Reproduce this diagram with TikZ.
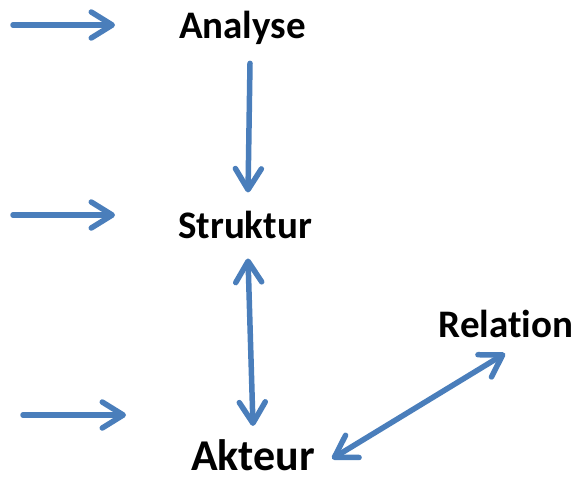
\documentclass[tikz,border=0pt]{standalone}
\usepackage{fontspec}
\setmainfont[Ligatures=NoCommon]{Carlito}
\usepackage{tikz}
\usetikzlibrary{arrows.meta}
\definecolor{sablue}{HTML}{4A7EBB}
\tikzset{
  saword/.style={font=\bfseries\fontsize{39}{44}\selectfont,inner sep=0pt,anchor=base},
  sabig/.style={saword,font=\bfseries\fontsize{44}{49}\selectfont},
  saflow/.style={-{Straight Barb[length=21pt,width=26pt,round]},line width=5.5pt,
                 line cap=round,sablue},
  saboth/.style={saflow,{Straight Barb[length=21pt,width=26pt,round]}-{Straight Barb[length=21pt,width=26pt,round]}}
}
\begin{document}
\begin{tikzpicture}[x=1pt,y=-1pt]
  \useasboundingbox (0,0) rectangle (580,483);

  \node[saword] (analyse) at (242.5,38) {Analyse};
  \node[saword] (struktur) at (245,238) {Struktur};
  \node[saword] (relation) at (506,337) {Relation};
  \node[sabig] (akteur) at (253,470) {Akteur};

  \coordinate (inAstart) at (13,25);
  \coordinate (inAend) at (115,25);
  \coordinate (inSstart) at (13,215);
  \coordinate (inSend) at (115,215);
  \coordinate (inKstart) at (23,415);
  \coordinate (inKend) at (126,415);

  \draw[saflow] (inAstart) -- (inAend);
  \draw[saflow] (inSstart) -- (inSend);
  \draw[saflow] (inKstart) -- (inKend);

  \draw[saflow] ([shift={(7.5,19)}]analyse.south) -- ([shift={(3,-18)}]struktur.north);
  \draw[saboth] ([shift={(3,20)}]struktur.south) -- ([shift={(0,-13)}]akteur.north);
  \draw[saboth] ([shift={(17,4)}]akteur.east) -- ([shift={(-1,16)}]relation.south);
\end{tikzpicture}
\end{document}
